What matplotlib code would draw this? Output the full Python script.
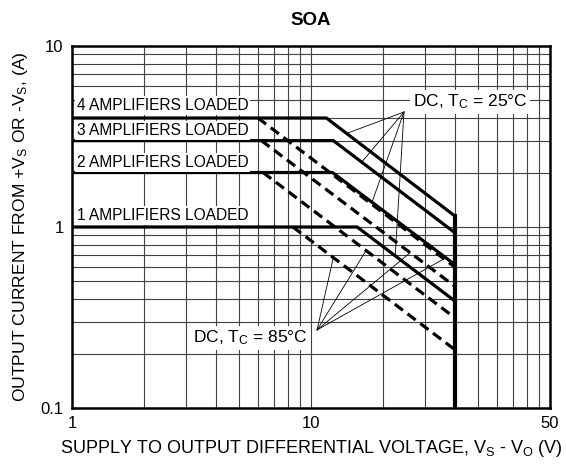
import matplotlib
matplotlib.use('Agg')
import matplotlib.pyplot as plt
import numpy as np

plt.rcParams['font.family'] = ['Liberation Sans', 'DejaVu Sans']
plt.rcParams['mathtext.fontset'] = 'custom'
plt.rcParams['mathtext.rm'] = 'Liberation Sans'
plt.rcParams['mathtext.it'] = 'Liberation Sans:italic'
plt.rcParams['mathtext.bf'] = 'Liberation Sans:bold'

# ---- data ----
amplifier_labels = ['4 AMPLIFIERS LOADED', '3 AMPLIFIERS LOADED',
                    '2 AMPLIFIERS LOADED', '1 AMPLIFIERS LOADED']
label_y = [4.68, 3.42, 2.28, 1.16]

# DC, Tc = 25C (solid) curves
v25 = [[1, 11.6, 40], [1, 12.4, 40], [1, 12.3, 40], [1, 15.6, 40]]
i25 = [[4, 4, 1.15], [3, 3, 0.93], [2, 2, 0.62], [1, 1, 0.39]]
# DC, Tc = 85C (dashed) curves
v85 = [[6.0, 40], [6.2, 40], [6.3, 40], [8.4, 40]]
i85 = [[4, 0.60], [3, 0.47], [2, 0.315], [1, 0.21]]
# voltage limit
vlim = [40, 40]
ilim = [1.15, 0.1]

x_ticks = [1, 10, 100]
x_ticklabels = ['1', '10', '50']
y_ticks = [0.1, 1, 10]
y_ticklabels = ['0.1', '1', '10']

# leader line anchors
lead25_origin = (24.5, 4.32)
lead25_v = [14.1, 16.3, 18.0, 22.5]
lead85_origin = (10.6, 0.27)
lead85_v = [36.0, 26.0, 17.0, 12.4]

fig = plt.figure(figsize=(5.66, 4.68), dpi=100)
ax = fig.add_axes([72/566, 60/468, 478/566, 362/468])
ax.set_xscale('log')
ax.set_yscale('log')
ax.set_xlim(1, 100)
ax.set_ylim(0.1, 10)

ax.grid(which='both', color='#404040', lw=0.8, zorder=0)
ax.set_axisbelow(True)

for v, i in zip(v25, i25):
    ax.plot(v, i, color='black', lw=2.3, solid_joinstyle='miter', zorder=3)
for v, i in zip(v85, i85):
    ax.plot(v, i, color='black', lw=2.3, linestyle=(0, (3.2, 1.8)), zorder=3)
ax.plot(vlim, ilim, color='black', lw=3.0, zorder=3)

box = dict(facecolor='white', edgecolor='none', pad=1.5)
for lab, y in zip(amplifier_labels, label_y):
    ax.text(1.045, y, lab, fontsize=11.2, ha='left', va='center', bbox=box, zorder=5)

def curve_i(v, vs, is_):
    return 10 ** np.interp(np.log10(v), np.log10(vs), np.log10(is_))

for k, v in enumerate(lead25_v):
    ax.plot([lead25_origin[0], v], [lead25_origin[1], curve_i(v, v25[k], i25[k])],
            color='black', lw=0.6, zorder=4)
for k, v in enumerate(lead85_v):
    ax.plot([lead85_origin[0], v], [lead85_origin[1], curve_i(v, v85[k], i85[k])],
            color='black', lw=0.6, zorder=4)

ax.text(46.3, 4.9, r'DC, T$_\mathrm{C}$ = 25°C', fontsize=12.5, ha='center', va='center',
        bbox=dict(facecolor='white', edgecolor='none', pad=2), zorder=6)
ax.text(5.56, 0.244, r'DC, T$_\mathrm{C}$ = 85°C', fontsize=12.5, ha='center', va='center',
        bbox=dict(facecolor='white', edgecolor='none', pad=2), zorder=6)

ax.set_xticks(x_ticks)
ax.set_xticklabels(x_ticklabels)
ax.set_yticks(y_ticks)
ax.set_yticklabels(y_ticklabels)
ax.tick_params(which='both', length=0, labelsize=12, pad=6)
ax.xaxis.set_minor_formatter(matplotlib.ticker.NullFormatter())
ax.yaxis.set_minor_formatter(matplotlib.ticker.NullFormatter())
for s in ax.spines.values():
    s.set_linewidth(1.8)
    s.set_zorder(7)

ax.set_title('SOA', fontsize=13.5, fontweight='bold', pad=15)
ax.set_xlabel(r'SUPPLY TO OUTPUT DIFFERENTIAL VOLTAGE, V$_\mathrm{S}$ - V$_\mathrm{O}$ (V)',
              fontsize=13, labelpad=5)
ax.set_ylabel(r'OUTPUT CURRENT FROM +V$_\mathrm{S}$ OR -V$_\mathrm{S}$, (A)',
              fontsize=12.6, labelpad=8)

fig.savefig('out.png', dpi=100)
